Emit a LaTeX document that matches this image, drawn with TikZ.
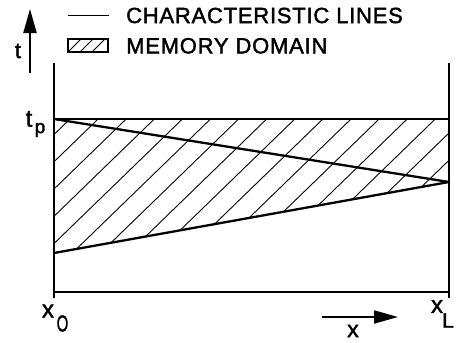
\documentclass[tikz,border=0pt]{standalone}
\usepackage{fontspec}
\setmainfont{Liberation Sans}[FakeBold=1.6]
\newfontfamily\legendfont[LetterSpace=3.5,FakeBold=1.8]{Liberation Sans}
\usetikzlibrary{arrows.meta}

\tikzset{
  frameline/.style={line width=1.8pt, line cap=butt},
  charline/.style={line width=2.3pt, line cap=round},
  hatchline/.style={line width=0.9pt},
  axisarrow/.style={line width=2pt, -{Triangle[length=24pt,width=13pt]}},
  legendtext/.style={inner sep=0pt, anchor=west, font=\legendfont\fontsize{22}{22}\selectfont},
  lbl/.style={inner sep=0pt, anchor=center}
}

\begin{document}
\begin{tikzpicture}[x=1pt,y=-1pt]
\useasboundingbox (0,0) rectangle (456,343);

% key points of the x-t plane
\coordinate (x0top) at (54,63);
\coordinate (x0bot) at (54,298);
\coordinate (xLtop) at (449,63);
\coordinate (xLbot) at (449,298);
\coordinate (bl) at (54,292);
\coordinate (br) at (449,292);
\coordinate (tpL) at (54,119);
\coordinate (tpR) at (449,119);
\coordinate (meet) at (449,182);
\coordinate (low) at (54,253);

% hatched memory domain
\begin{scope}
  \clip (tpL) -- (tpR) -- (meet) -- (low) -- cycle;
  \foreach \k in {0,...,16}
    \draw[hatchline] ({70+28.1*\k+100},22) -- ({70+28.1*\k-400},507);
\end{scope}

% frame
\draw[frameline] (x0top) -- (x0bot);
\draw[frameline] (xLtop) -- (xLbot);
\draw[frameline] (bl) -- (br);
\draw[charline] (tpL) -- (tpR);

% characteristic lines
\draw[charline] (tpL) -- (meet);
\draw[charline] (low) -- (meet);

% legend
\coordinate (lgA) at (68,15.5);
\coordinate (lgB) at (109,15.5);
\draw[line width=1.6pt] (lgA) -- (lgB);
\node[legendtext] (chartext) at (126,15.5) {CHARACTERISTIC LINES};
\coordinate (boxA) at (68,39);
\coordinate (boxB) at (108,52);
\begin{scope}
  \clip (boxA) rectangle (boxB);
  \foreach \i in {0,1,2}
    \draw[line width=0.9pt] ({68+12*\i},52) -- ({81+12*\i},39);
\end{scope}
\draw[line width=1.3pt] (boxA) rectangle (boxB);
\node[legendtext] (memtext) at (126,45.8) {MEMORY DOMAIN};

% axes arrows
\coordinate (taxis0) at (30,73);
\coordinate (taxis1) at (30,9);
\draw[axisarrow] (taxis0) -- (taxis1);
\node[lbl, font=\fontsize{22}{22}\selectfont] (tlab) at (18,51) {t};

\coordinate (xaxis0) at (322,317);
\coordinate (xaxis1) at (398,317);
\draw[axisarrow] (xaxis0) -- (xaxis1);
\node[lbl, font=\fontsize{23}{23}\selectfont] (xlab) at (353,331) {x};

% labels on the axes
\node[lbl, font=\fontsize{24}{24}\selectfont] (tp) at (29,119) {t};
\node[lbl, font=\fontsize{19}{19}\selectfont] (tpsub) at (40,130) {p};
\node[lbl, font=\fontsize{24}{24}\selectfont] (x0) at (48,311) {x};
\node[lbl, font=\fontsize{23}{23}\selectfont] (x0sub) at (62.5,323.5) {\scalebox{0.65}[1]{O}};
\node[lbl, font=\fontsize{24}{24}\selectfont] (xL) at (437,306.5) {x};
\node[lbl, font=\fontsize{21}{21}\selectfont] (xLsub) at (448,320.5) {L};
\end{tikzpicture}
\end{document}
